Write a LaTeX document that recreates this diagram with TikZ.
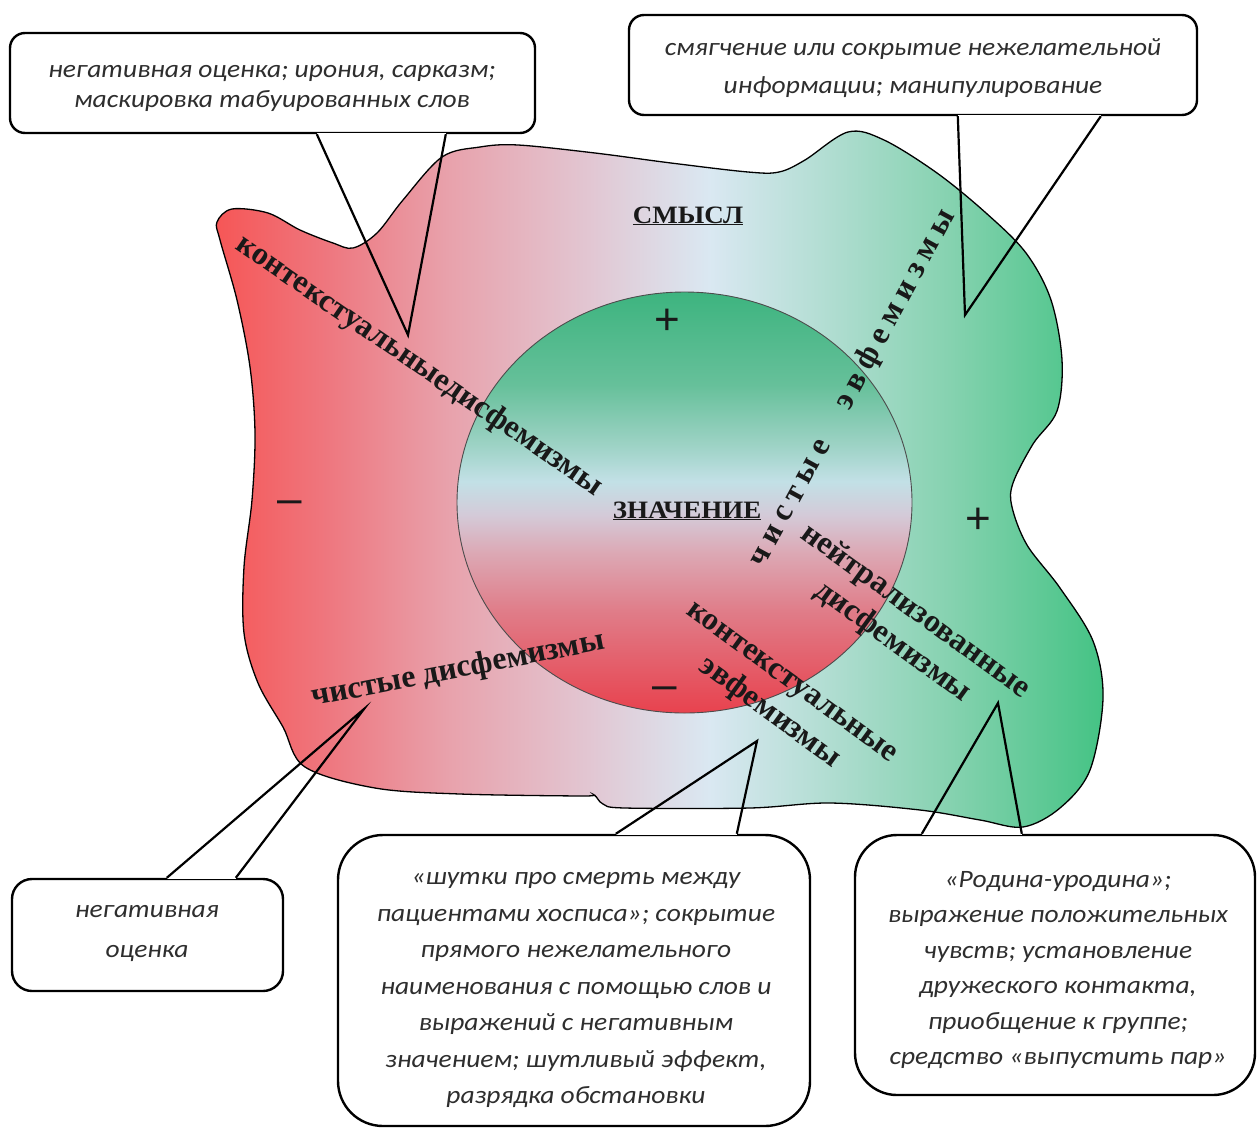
\documentclass[tikz,border=0pt]{standalone}
\usepackage{fontspec}
\setmainfont{Liberation Serif}
\newfontfamily\callfont{Carlito}
\newfontfamily\signfont{Liberation Sans}
\definecolor{b0}{HTML}{F65656}
\definecolor{b1}{HTML}{EE7880}
\definecolor{b2}{HTML}{E8A2AC}
\definecolor{b3}{HTML}{E2C6D2}
\definecolor{b4}{HTML}{DAE8F2}
\definecolor{b5}{HTML}{B4DED4}
\definecolor{b6}{HTML}{86D2B0}
\definecolor{b7}{HTML}{44C384}
\definecolor{k0}{HTML}{E8424E}
\definecolor{k1}{HTML}{E07C88}
\definecolor{k2}{HTML}{DCA8B4}
\definecolor{k3}{HTML}{D4CAD8}
\definecolor{k4}{HTML}{C2E0E6}
\definecolor{k5}{HTML}{9CD2C4}
\definecolor{k6}{HTML}{66C09A}
\definecolor{k7}{HTML}{3DB47F}
\definecolor{calltxt}{HTML}{2E2E2E}
\pgfdeclarehorizontalshading{blobshade}{100bp}{color(0bp)=(b0); color(25bp)=(b0); color(31.5bp)=(b1); color(38.2bp)=(b2); color(46bp)=(b3); color(52.8bp)=(b4); color(59bp)=(b5); color(66.3bp)=(b6); color(75bp)=(b7); color(100bp)=(b7)}
\pgfdeclareverticalshading{circshade}{100bp}{color(0bp)=(k0); color(25bp)=(k0); color(37bp)=(k1); color(44bp)=(k2); color(48.5bp)=(k3); color(52.5bp)=(k4); color(57bp)=(k5); color(64bp)=(k6); color(75bp)=(k7); color(100bp)=(k7)}
\tikzset{
  cbox/.style={draw=black, fill=white, line width=2.4pt, inner sep=0pt},
  ctext/.style={text=calltxt, align=center, xscale=1.1, inner sep=0pt},
  tail/.style={draw=black, line width=2.2pt, line join=miter},
  cover/.style={draw=white, line width=3.2pt},
  lab/.style={font=\bfseries\fontsize{32}{38}\selectfont, text=black!90, inner sep=0pt},
  head/.style={font=\bfseries\fontsize{25}{30}\selectfont, text=black!90, xscale=1.08, inner sep=0pt, anchor=base},
  sign/.style={font=\signfont\fontsize{44}{44}\selectfont, text=black!90, inner sep=0pt},
}
\begin{document}
\begin{tikzpicture}[x=1pt,y=-1pt]
\useasboundingbox (0,0) rectangle (1257,1130);
\fill[white] (0,0) rectangle (1257,1130);

% blob (смысл)
\shade[shading=blobshade, draw=black, line width=1.3pt]
  plot[smooth cycle, tension=0.55] coordinates {
  (217,222) (232,209) (268,213) (300,230) (333,243) (353,248) (377,233) (403,200)
  (442,157) (480,147) (518,145) (595,153) (671,163) (748,172) (779,172) (805,160)
  (848,132) (884,140) (937,173) (986,213) (1026,253) (1051,300) (1062,360) (1057,411)
  (1033,444) (1013,483) (1012,507) (1027,545) (1060,588) (1093,641) (1103,698) (1090,770)
  (1060,808) (1023,827) (980,820) (920,810) (830,803) (750,808) (625,808) (603,804)
  (594,795) (582,796) (460,794) (375,788) (305,767) (283,727) (258,683) (244,633)
  (244,567) (252,500) (255,433) (250,367) (237,300) (220,240)};

% circle (значение)
\shade[shading=circshade, draw=black!70, line width=0.9pt] (684.5,502.5) ellipse [x radius=227.5, y radius=210.5];

% headings
\node[head] (smysl) at (688,223) {\underline{СМЫСЛ}};
\node[head] (znach) at (687,518) {\underline{ЗНАЧЕНИЕ}};

% signs
\node[sign] (pin) at (667,322) {+};
\node[sign] (mout) at (290,507) {–};
\node[sign] (min) at (665,693) {–};
\node[sign] (pout) at (978,521) {+};

% labels
\node[lab, rotate=-34.5] (kd) at (419,366) {контекстуальныедисфемизмы};
\node[lab, rotate=61.5] (ce) at (853,388) {ч\hspace{7pt}и\hspace{7pt}с\hspace{7pt}т\hspace{7pt}ы\hspace{7pt}е\hspace{38pt}э\hspace{7pt}в\hspace{7pt}ф\hspace{7pt}е\hspace{7pt}м\hspace{7pt}и\hspace{7pt}з\hspace{7pt}м\hspace{7pt}ы};
\node[lab, rotate=-36, align=center] (nd) at (904,627) {нейтрализованные\\дисфемизмы};
\node[lab, rotate=-36, align=center] (ke) at (779,700) {контекстуальные\\эвфемизмы};
\node[lab, rotate=11] (cd) at (458,670) {чистые дисфемизмы};

% callout tips
\coordinate (t1) at (408,335);
\coordinate (t2) at (965,315);
\coordinate (t3) at (364,709);
\coordinate (t4) at (757,741);
\coordinate (t5) at (998,703);

% callout 1 (top left)
\node[cbox, rounded corners=15pt, minimum width=525pt, minimum height=100pt] (cb1) at (272.5,83) {};
\draw[cover] ([xshift=308pt]cb1.south west) -- ([xshift=437pt]cb1.south west);
\draw[tail] ([xshift=308pt]cb1.south west) -- (t1) -- ([xshift=437pt]cb1.south west);
\node[ctext, font=\callfont\itshape\fontsize{25}{30}\selectfont] (ct1) at (272,88) {негативная оценка; ирония, сарказм;\\маскировка табуированных слов};

% callout 2 (top right)
\node[cbox, rounded corners=15pt, minimum width=568pt, minimum height=100pt] (cb2) at (913,65) {};
\draw[cover] ([xshift=330pt]cb2.south west) -- ([xshift=473pt]cb2.south west);
\draw[tail] ([xshift=330pt]cb2.south west) -- (t2) -- ([xshift=473pt]cb2.south west);
\node[ctext, font=\callfont\itshape\fontsize{25}{38}\selectfont] (ct2) at (913,68) {смягчение или сокрытие нежелательной\\информации; манипулирование};

% callout 3 (bottom left)
\node[cbox, rounded corners=20pt, minimum width=271pt, minimum height=112pt] (cb3) at (147.5,935) {};
\draw[cover] ([xshift=156pt]cb3.north west) -- ([xshift=225pt]cb3.north west);
\draw[tail] ([xshift=156pt]cb3.north west) -- (t3) -- ([xshift=225pt]cb3.north west);
\node[ctext, font=\callfont\itshape\fontsize{25}{40}\selectfont] (ct3) at (147,933) {негативная\\оценка};

% callout 4 (bottom middle)
\node[cbox, rounded corners=45pt, minimum width=472pt, minimum height=291pt] (cb4) at (574,980.5) {};
\draw[cover] ([xshift=279pt]cb4.north west) -- ([xshift=400pt]cb4.north west);
\draw[tail] ([xshift=279pt]cb4.north west) -- (t4) -- ([xshift=400pt]cb4.north west);
\node[ctext, font=\callfont\itshape\fontsize{25}{36.5}\selectfont] (ct4) at (576,990) {«шутки про смерть между\\пациентами хосписа»; сокрытие\\прямого нежелательного\\наименования с помощью слов и\\выражений с негативным\\значением; шутливый эффект,\\разрядка обстановки};

% callout 5 (bottom right)
\node[cbox, rounded corners=42pt, minimum width=400pt, minimum height=260pt] (cb5) at (1055,965) {};
\draw[cover] ([xshift=68pt]cb5.north west) -- ([xshift=168pt]cb5.north west);
\draw[tail] ([xshift=68pt]cb5.north west) -- (t5) -- ([xshift=168pt]cb5.north west);
\node[ctext, font=\callfont\itshape\fontsize{25}{35.4}\selectfont] (ct5) at (1058,970) {«Родина-уродина»;\\выражение положительных\\чувств; установление\\дружеского контакта,\\приобщение к группе;\\средство «выпустить пар»};
\end{tikzpicture}
\end{document}
